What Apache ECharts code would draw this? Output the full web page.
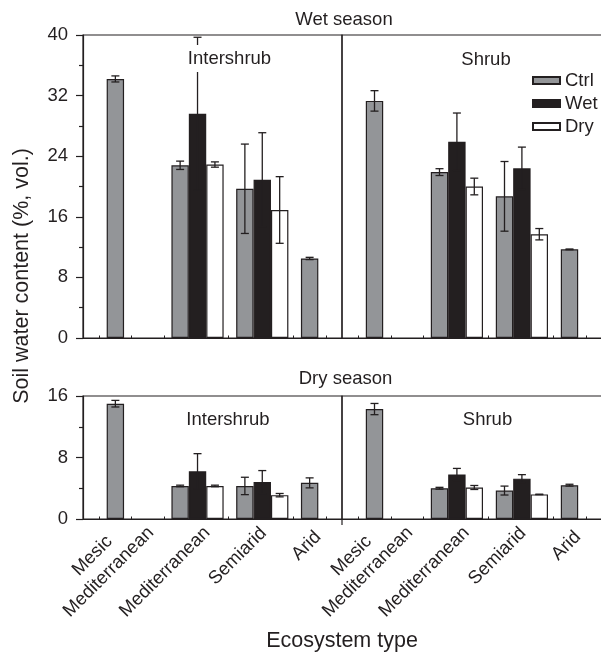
<!DOCTYPE html>
<html><head><meta charset="utf-8">
<script src="https://cdn.jsdelivr.net/npm/echarts@6/dist/echarts.min.js"></script>
<style>html,body{margin:0;padding:0;background:#fff}#c{width:601px;height:655px}</style>
</head><body><div id="c"></div>
<script>
// ---------------- data ----------------
const categories = ['Mesic\nMediterranean', 'Mediterranean', 'Semiarid', 'Arid'];
const treatments = ['Ctrl', 'Wet', 'Dry'];
const yTicksWet = [0, 8, 16, 24, 32, 40];
const yTicksDry = [0, 8, 16];

// Wet season – Intershrub
const wetInterCtrl    = [34.2, 22.8, 19.7, 10.5];
const wetInterCtrlErr = [0.4, 0.55, 5.9, 0.15];
const wetInterWet     = [null, 29.6, 20.9, null];
const wetInterWetErr  = [null, 10.1, 6.2, null];
const wetInterDry     = [null, 22.9, 16.9, null];
const wetInterDryErr  = [null, 0.35, 4.4, null];
// Wet season – Shrub
const wetShrubCtrl    = [31.3, 21.9, 18.7, 11.7];
const wetShrubCtrlErr = [1.35, 0.45, 4.6, 0.05];
const wetShrubWet     = [null, 25.9, 22.4, null];
const wetShrubWetErr  = [null, 3.8, 2.8, null];
const wetShrubDry     = [null, 20.0, 13.7, null];
const wetShrubDryErr  = [null, 1.1, 0.75, null];
// Dry season – Intershrub
const dryInterCtrl    = [15.0, 4.3, 4.3, 4.7];
const dryInterCtrlErr = [0.43, 0.1, 1.13, 0.65];
const dryInterWet     = [null, 6.2, 4.8, null];
const dryInterWetErr  = [null, 2.3, 1.5, null];
const dryInterDry     = [null, 4.3, 3.1, null];
const dryInterDryErr  = [null, 0.1, 0.22, null];
// Dry season – Shrub
const dryShrubCtrl    = [14.3, 4.0, 3.7, 4.4];
const dryShrubCtrlErr = [0.73, 0.12, 0.58, 0.12];
const dryShrubWet     = [null, 5.8, 5.25, null];
const dryShrubWetErr  = [null, 0.78, 0.52, null];
const dryShrubDry     = [null, 4.1, 3.2, null];
const dryShrubDryErr  = [null, 0.26, 0.03, null];

// ---------------- style ----------------
const FONT = "'Liberation Sans', Arial, Helvetica, sans-serif";
const INK = '#231f20';
const COLORS = { Ctrl: '#939598', Wet: '#231f20', Dry: '#ffffff' };
const BW = 17.4;       // bar width
const CAP = 8;         // error cap width
const FS = 18.5;

const panels = [
  { grid: { left: 83, top: 35, width: 259, height: 303 }, ticks: yTicksWet, showY: true, showX: false,
    vals: [wetInterCtrl, wetInterWet, wetInterDry], errs: [wetInterCtrlErr, wetInterWetErr, wetInterDryErr] },
  { grid: { left: 342, top: 35, width: 260, height: 303 }, ticks: yTicksWet, showY: false, showX: false,
    vals: [wetShrubCtrl, wetShrubWet, wetShrubDry], errs: [wetShrubCtrlErr, wetShrubWetErr, wetShrubDryErr] },
  { grid: { left: 83, top: 396, width: 259, height: 123 }, ticks: yTicksDry, showY: true, showX: true,
    vals: [dryInterCtrl, dryInterWet, dryInterDry], errs: [dryInterCtrlErr, dryInterWetErr, dryInterDryErr] },
  { grid: { left: 342, top: 396, width: 260, height: 123 }, ticks: yTicksDry, showY: false, showX: true,
    vals: [dryShrubCtrl, dryShrubWet, dryShrubDry], errs: [dryShrubCtrlErr, dryShrubWetErr, dryShrubDryErr] }
];

const labelKeys = ['mm', 'med', 'semi', 'arid'];
const rich = {
  mm:   { fontSize: FS, fontFamily: FONT, color: INK, lineHeight: 23, align: 'center', padding: [0, 42, 0, 0] },
  med:  { fontSize: FS, fontFamily: FONT, color: INK, lineHeight: 20, align: 'center', padding: [11, 54, 0, 0] },
  semi: { fontSize: FS, fontFamily: FONT, color: INK, lineHeight: 20, align: 'center', padding: [0, 20, 0, 0] },
  arid: { fontSize: FS, fontFamily: FONT, color: INK, lineHeight: 20, align: 'center', padding: [0, 0, 9, 0] }
};
const subCats = categories.flatMap(function (c, i) { return ['L' + i, 'R' + i]; });

const grids = [], xAxes = [], yAxes = [], series = [];
const lineStyle = { color: INK, width: 1.2 };

panels.forEach(function (p, g) {
  grids.push(Object.assign({ show: true, borderColor: INK, borderWidth: 1.2, backgroundColor: 'transparent',
    containLabel: false, outerBoundsMode: 'none' }, p.grid));
  xAxes.push({
    gridIndex: g, type: 'category', data: categories, position: 'bottom',
    axisLine: { show: true, lineStyle: lineStyle },
    axisTick: { show: false },
    splitLine: { show: false },
    axisLabel: p.showX ? {
      show: true, interval: 0, rotate: 45, align: 'center', verticalAlign: 'middle', margin: 30,
      formatter: function (val, idx) { return '{' + labelKeys[idx] + '|' + val + '}'; },
      rich: rich
    } : { show: false }
  });
  yAxes.push({
    gridIndex: g, type: 'value',
    min: p.ticks[0], max: p.ticks[p.ticks.length - 1], interval: p.ticks[1] - p.ticks[0],
    axisLine: { show: p.showY, lineStyle: lineStyle },
    axisTick: { show: p.showY, inside: false, length: 7, lineStyle: lineStyle },
    minorTick: { show: p.showY, splitNumber: 2, length: 4, lineStyle: lineStyle },
    splitLine: { show: false }, minorSplitLine: { show: false },
    axisLabel: { show: p.showY, fontSize: FS, fontFamily: FONT, color: INK, margin: 15 }
  });
});
// small inside ticks at quarter-category positions
panels.forEach(function (p, g) {
  xAxes.push({
    gridIndex: g, type: 'category', data: subCats, position: 'bottom',
    axisLine: { show: false }, axisLabel: { show: false }, splitLine: { show: false },
    axisTick: { show: true, inside: true, alignWithLabel: true, interval: 0, length: 2.5, lineStyle: { color: INK, width: 1 } }
  });
});

panels.forEach(function (p, g) {
  // two empty leading slots so that Ctrl sits on the category centre
  ['_s1', '_s2'].forEach(function (nm) {
    series.push({ type: 'bar', name: nm, xAxisIndex: g, yAxisIndex: g, barWidth: BW, barGap: '0%',
      data: categories.map(function () { return null; }), silent: true });
  });
  treatments.forEach(function (t, k) {
    series.push({
      type: 'bar', name: t, xAxisIndex: g, yAxisIndex: g, barWidth: BW, barGap: '0%',
      data: p.vals[k],
      itemStyle: { color: COLORS[t], borderColor: INK, borderWidth: 1.2 },
      emphasis: { disabled: true }
    });
  });
  const errData = [];
  treatments.forEach(function (t, k) {
    p.vals[k].forEach(function (v, i) {
      if (v != null && p.errs[k][i] != null) errData.push([i, v, p.errs[k][i], k]);
    });
  });
  series.push({
    type: 'custom', name: 'err' + g, xAxisIndex: g, yAxisIndex: g, z: 5, silent: true,
    encode: { x: 0, y: 1 },
    data: errData,
    renderItem: function (params, api) {
      const c = api.value(0), v = api.value(1), e = api.value(2), k = api.value(3);
      const x = api.coord([c, v])[0] + k * BW;
      const yT = api.coord([c, v + e])[1];
      const yB = api.coord([c, v - e])[1];
      const st = { stroke: INK, lineWidth: 1.3 };
      const hw = CAP / 2;
      return { type: 'group', children: [
        { type: 'line', shape: { x1: x, y1: yT, x2: x, y2: yB }, style: st },
        { type: 'line', shape: { x1: x - hw, y1: yT, x2: x + hw, y2: yT }, style: st },
        { type: 'line', shape: { x1: x - hw, y1: yB, x2: x + hw, y2: yB }, style: st }
      ] };
    }
  });
});

function txt(id, text, x, y, size, extra) {
  return Object.assign({
    type: 'text', id: id, x: x, y: y, z: 100, silent: true,
    style: Object.assign({ text: text, fontSize: size, fontFamily: FONT, fill: INK, align: 'center', verticalAlign: 'middle' },
      (extra && extra.style) || {})
  }, extra && extra.rotation != null ? { rotation: extra.rotation } : {});
}

const chart = echarts.init(document.getElementById('c'), null, { renderer: 'canvas' });
chart.setOption({
  animation: false,
  backgroundColor: '#fff',
  grid: grids, xAxis: xAxes, yAxis: yAxes, series: series,
  legend: {
    data: treatments, orient: 'vertical', left: 527, top: 66,
    itemWidth: 27, itemHeight: 7, itemGap: 4, icon: 'rect', selectedMode: false,
    textStyle: { fontSize: FS, fontFamily: FONT, color: INK, lineHeight: 19 }
  },
  graphic: { elements: [
    txt('t1', 'Wet season', 344, 20, FS),
    txt('t2', 'Intershrub', 229.5, 58.5, FS, { style: { backgroundColor: '#fff', padding: [3, 2, 5, 2] } }),
    txt('t3', 'Shrub', 486, 60, FS),
    txt('t4', 'Dry season', 345.5, 378.5, FS),
    txt('t5', 'Intershrub', 228, 420, FS),
    txt('t6', 'Shrub', 487.5, 420, FS),
    txt('t7', 'Ecosystem type', 342, 641, 21.5),
    txt('t8', 'Soil water content (%, vol.)', 22, 276, 21.5, { rotation: Math.PI / 2 })
  ] }
});

// short downward extension of the Intershrub/Shrub divider in the lower panel
try {
  const r = chart.getModel().getComponent('grid', 3).coordinateSystem.getRect();
  chart.setOption({ graphic: { elements: [{
    type: 'line', id: 'divTick', z: 100, silent: true,
    shape: { x1: r.x, y1: r.y + r.height, x2: r.x, y2: r.y + r.height + 6 },
    style: { stroke: INK, lineWidth: 1.2 }
  }] } });
} catch (e) {}
</script>
</body></html>
